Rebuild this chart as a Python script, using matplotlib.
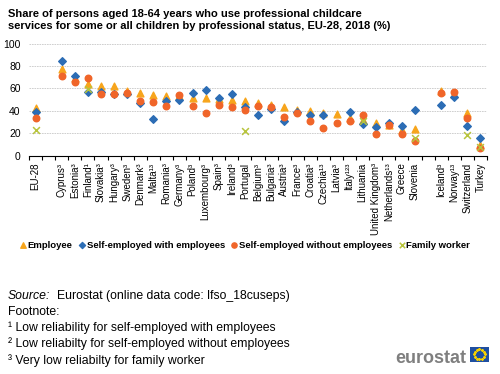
import numpy as np
import matplotlib
matplotlib.use("Agg")
import matplotlib.pyplot as plt
from matplotlib.patches import Rectangle

plt.rcParams['font.family'] = ['Liberation Sans', 'DejaVu Sans']

# categories (empty strings are gaps on the axis)
countries = ["EU-28", "",
             "Cyprus³", "Estonia³", "Finland¹", "Slovakia³", "Hungary³", "Sweden³",
             "Denmark³", "Malta¹³", "Romania³", "Germany³", "Poland³", "Luxembourg³",
             "Spain³", "Ireland³", "Portugal", "Belgium³", "Bulgaria³", "Austria³",
             "France³", "Croatia³", "Czechia¹³", "Latvia³", "Italy¹²³", "Lithuania",
             "United Kingdom³", "Netherlands¹³", "Greece", "Slovenia", "",
             "Iceland³", "Norway¹³", "Switzerland", "Turkey"]
nan = np.nan
employee = [42.3, nan,
            77.7, 69.0, 64.3, 62.2, 62.0, 57.5, 56.3, 53.9, 53.6, 53.0, 51.5, 51.2,
            50.5, 49.7, 48.8, 46.8, 45.5, 43.8, 40.8, 39.9, 38.4, 37.5, 33.4, 31.9,
            28.9, 27.0, 22.7, 23.5, nan,
            57.8, 55.0, 38.4, 9.5]
self_with = [39.3, nan,
             84.5, 70.9, 56.6, 56.6, 55.4, 55.4, 46.8, 33.0, 49.1, 50.0, 56.3, 59.0,
             51.2, 55.4, 43.8, 36.0, 41.4, 31.3, 38.9, 36.6, 36.0, nan, 39.0, 28.3,
             25.3, 28.9, 26.8, 40.8, nan,
             45.5, 52.7, 26.8, 16.1]
self_without = [33.7, nan,
                70.9, 65.5, 69.7, 55.4, 55.4, 56.3, 49.1, 48.2, 44.1, 54.2, 44.6, 38.4,
                45.0, 43.2, 40.8, 44.6, 43.5, 34.6, 38.4, 31.3, 24.4, 28.9, 30.7, 36.0,
                19.6, 27.1, 19.6, 13.1, nan,
                55.7, 56.6, 33.4, 7.1]
family = [22.7, nan,
          nan, nan, 59.3, nan, nan, nan, nan, nan, nan, nan, nan, nan,
          nan, nan, 22.0, nan, nan, nan, nan, nan, nan, nan, nan, 31.3,
          nan, nan, nan, 15.5, nan,
          nan, nan, 18.8, 8.0]

fig = plt.figure(figsize=(5, 3.74), dpi=100)
ax = fig.add_axes([0.058, 0.584, 0.916, 0.299])
x = np.arange(len(countries))

ax.scatter(x, employee, marker='^', s=24, color='#F7A51C', zorder=3, label='Employee')
ax.scatter(x, self_with, marker='D', s=15, color='#2C6DB5', zorder=4, label='Self-employed with employees')
ax.scatter(x, self_without, marker='o', s=22, color='#F06529', zorder=5, label='Self-employed without employees')
ax.scatter(x, family, marker='x', s=24, color='#B8C43C', linewidths=1.1, zorder=6, label='Family worker')

ax.set_xlim(-0.5, len(countries) - 0.5)
ax.set_ylim(0, 100)
ax.set_yticks(range(0, 101, 20))
ax.yaxis.grid(True, color='#c8c8c8', linestyle=(0, (2, 1)), linewidth=0.6)
ax.set_axisbelow(True)
for s in ['left', 'right', 'top']:
    ax.spines[s].set_visible(False)
ax.spines['bottom'].set_linewidth(0.8)
ax.tick_params(axis='y', length=0, labelsize=7.5, pad=6)

ax.set_xticks(x)
ax.set_xticklabels(countries, rotation=90, fontsize=7)
ax.tick_params(axis='x', length=0, pad=5)
ax.set_xticks(np.arange(len(countries) + 1) - 0.5, minor=True)
ax.tick_params(axis='x', which='minor', length=3, width=0.8, direction='out')

fig.text(0.016, 0.975, "Share of persons aged 18-64 years who use professional childcare\n"
         "services for some or all children by professional status, EU-28, 2018 (%)",
         fontsize=8, fontweight='bold', va='top', linespacing=1.15)

ax.legend(loc='center', bbox_to_anchor=(0.47, -0.80), ncol=4, frameon=False,
          prop={'size': 6.8, 'weight': 'bold'}, handletextpad=0.0, columnspacing=0.5,
          handlelength=1.0, markerscale=0.8)

fs = 8.8
fig.text(0.016, 0.20, "Source:", fontsize=fs, style='italic')
fig.text(0.114, 0.20, "Eurostat (online data code: lfso_18cuseps)", fontsize=fs)
fig.text(0.016, 0.157, "Footnote:", fontsize=fs)
fig.text(0.016, 0.114, "¹ Low reliability for self-employed with employees", fontsize=fs)
fig.text(0.016, 0.071, "² Low reliabilty for self-employed without employees", fontsize=fs)
fig.text(0.016, 0.028, "³ Very low reliabilty for family worker", fontsize=fs)

# eurostat logo
fig.text(0.79, 0.03, "eurostat", fontsize=13, fontweight='bold', color='#7f7f7f')
fig.patches.append(Rectangle((0.94, 0.033), 0.037, 0.04, transform=fig.transFigure,
                             facecolor='#1f4fa0', edgecolor='none'))
ang = np.linspace(0, 2 * np.pi, 12, endpoint=False)
fig.add_artist(plt.Line2D(0.9585 + 0.0105 * np.cos(ang), 0.053 + 0.014 * np.sin(ang),
                          transform=fig.transFigure, linestyle='none', marker='*',
                          markersize=1.5, color='#f5d000'))

fig.savefig("out.png", dpi=100)
